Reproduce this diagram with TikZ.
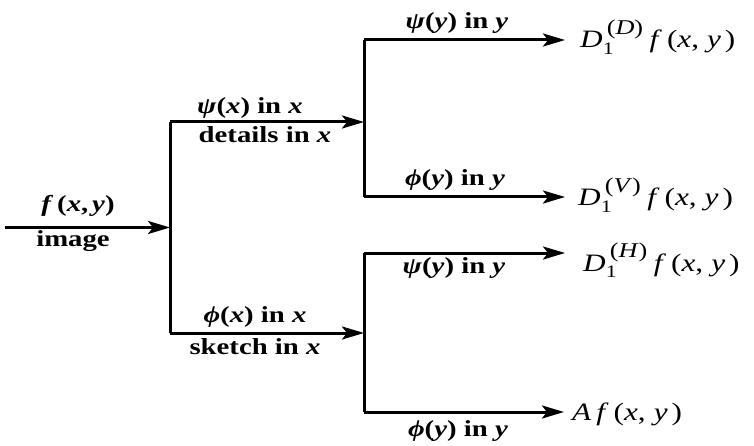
\documentclass[tikz,border=0pt]{standalone}
\usepackage{amsmath}
\usepackage{fontspec}
\setmainfont{Liberation Serif}[FakeStretch=1.25]
\usetikzlibrary{arrows.meta}
\newcommand{\supsz}{\fontsize{21}{23}\selectfont}
\newcommand{\fxy}{\textit{f}\hspace{5pt}(\textit{x},\hspace{8pt}\textit{y}\hspace{4pt})}
\newcommand{\Dsub}[1]{\textit{D}$_{\text{1}}^{\hspace{4pt}\raisebox{3pt}{\text{\supsz(\textit{#1})}}}$\hspace{6pt}\fxy}
\begin{document}
\begin{tikzpicture}[x=1pt,y=-1pt,
  wire/.style={line width=3pt},
  arr/.style={wire,-{Stealth[length=22pt,width=13pt,inset=5pt]}},
  lbl/.style={font=\fontsize{23}{26}\selectfont\bfseries, inner sep=0pt},
  outp/.style={font=\fontsize{25}{28}\selectfont, anchor=base west, inner sep=0pt}]
\useasboundingbox (0,0) rectangle (754,446);
% junction points
\coordinate (s0) at (5,227.5);
\coordinate (j0) at (170,227.5);
\coordinate (L1t) at (170,122);
\coordinate (L1b) at (170,333);
\coordinate (j1) at (364,122);
\coordinate (j2) at (364,333);
\coordinate (R1t) at (364,40);
\coordinate (R1b) at (364,197);
\coordinate (R2t) at (364,253);
\coordinate (R2b) at (364,412);
% outputs
\node[outp] (o1) at (580,48) {\Dsub{D}};
\node[outp] (o2) at (578,206) {\Dsub{V}};
\node[outp] (o3) at (583,271) {\Dsub{H}};
\node[outp] (o4) at (572,420) {\textit{A}\hspace{5pt}\fxy};
% labels
\node[lbl] (lf) at (78,206) {\textit{f}\,(\textit{x},\,\textit{y})};
\node[lbl] (limg) at (73,241) {image};
\node[lbl] (l1) at (250,108) {\textit{ψ}(\textit{x}) in \textit{x}};
\node[lbl] (l2) at (265,135) {details in \textit{x}};
\node[lbl] (l3) at (255,317) {\textit{ϕ}(\textit{x}) in \textit{x}};
\node[lbl] (l4) at (255,347) {sketch in \textit{x}};
\node[lbl] (l5) at (457,23) {\textit{ψ}(\textit{y}) in \textit{y}};
\node[lbl] (l6) at (455,180) {\textit{ϕ}(\textit{y}) in \textit{y}};
\node[lbl] (l7) at (454,268) {\textit{ψ}(\textit{y}) in \textit{y}};
\node[lbl] (l8) at (458,431) {\textit{ϕ}(\textit{y}) in \textit{y}};
% connectors
\draw[arr] (s0) -- (j0);
\draw[wire] (L1t) -- (L1b);
\draw[arr] (L1t) -- (j1);
\draw[arr] (L1b) -- (j2);
\draw[wire] (R1t) -- (R1b);
\draw[wire] (R2t) -- (R2b);
\draw[arr,shorten >=15pt] (R1t) -- (R1t -| o1.west);
\draw[arr,shorten >=13pt] (R1b) -- (R1b -| o2.west);
\draw[arr,shorten >=18pt] (R2t) -- (R2t -| o3.west);
\draw[arr,shorten >=8pt] (R2b) -- (R2b -| o4.west);
\end{tikzpicture}
\end{document}
